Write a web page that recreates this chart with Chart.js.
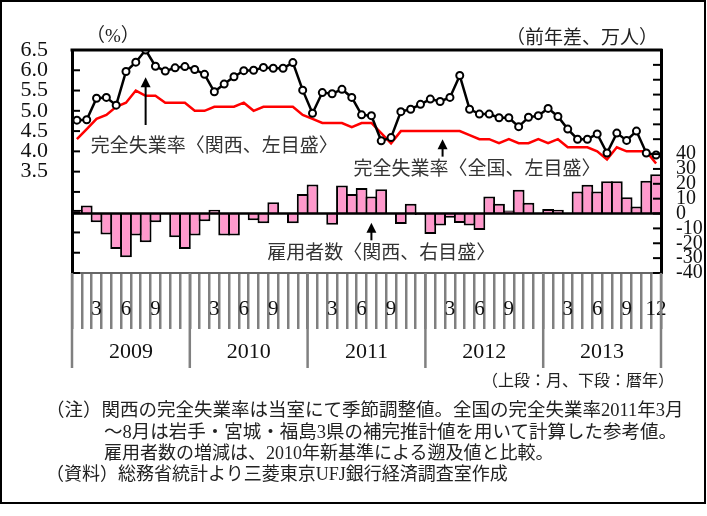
<!DOCTYPE html>
<html lang="ja">
<head>
<meta charset="utf-8">
<title>関西の完全失業率と雇用者数</title>
<script src="https://cdn.jsdelivr.net/npm/chart.js@4.4.1/dist/chart.umd.min.js"></script>
<style>
  html, body { margin: 0; padding: 0; background: #fff; }
  #wrap { position: relative; width: 707px; height: 516px; font-family: "Liberation Serif", "Noto Sans CJK JP", serif; color: #222; }
  #frame { position: absolute; left: 0; top: 0; width: 702px; height: 500px; border: 2px solid #000; pointer-events: none; }
  canvas { position: absolute; left: 0; top: 0; }
  .t { position: absolute; white-space: nowrap; line-height: 1; }
</style>
</head>
<body>
<div id="wrap">
  <canvas id="chart" width="707" height="516"></canvas>
  <div id="frame"></div>
  <div class="t" style="left:86px; top:26px; font-size:19px;">（%）</div>
  <div class="t" style="left:506px; top:28px; font-size:19px;">（前年差、万人）</div>
  <div class="t" style="left:482px; top:373px; font-size:16px;">（上段：月、下段：暦年）</div>
  <div class="t" style="left:46px; top:401px; font-size:18.5px;">（注）関西の完全失業率は当室にて季節調整値。全国の完全失業率2011年3月</div>
  <div class="t" style="left:104px; top:423px; font-size:18.5px;">～8月は岩手・宮城・福島3県の補完推計値を用いて計算した参考値。</div>
  <div class="t" style="left:104px; top:444px; font-size:18px;">雇用者数の増減は、2010年新基準による遡及値と比較。</div>
  <div class="t" style="left:46px; top:465px; font-size:18px;">（資料）総務省統計より三菱東京UFJ銀行経済調査室作成</div>
</div>
<script>
// years and months on the x axis
const years = ["2009", "2010", "2011", "2012", "2013"];
const months = ["1", "2", "3", "4", "5", "6", "7", "8", "9", "10", "11", "12"];
const monthTicks = ["3", "6", "9"];

// unemployment rate, Kansai (seasonally adjusted, %)
const kansaiRate = [
  4.77, 4.78, 5.31, 5.33, 5.14, 5.97, 6.2, 6.5, 6.1, 5.98, 6.06, 6.09,
  6.02, 5.9, 5.47, 5.66, 5.84, 5.99, 6.0, 6.07, 6.05, 6.05, 6.19, 5.51,
  4.94, 5.45, 5.42, 5.53, 5.33, 4.9, 4.88, 4.26, 4.34, 4.98, 5.04, 5.16,
  5.29, 5.23, 5.33, 5.87, 5.04, 4.92, 4.92, 4.83, 4.83, 4.61, 4.84, 4.88,
  5.06, 4.86, 4.55, 4.3, 4.3, 4.43, 3.96, 4.45, 4.27, 4.5, 3.96, 3.91
];

// unemployment rate, Japan (%)
const nationalRate = [
  4.3, 4.55, 4.8, 4.9, 5.1, 5.2, 5.5, 5.37, 5.37, 5.2, 5.2, 5.2,
  5.0, 5.0, 5.1, 5.1, 5.1, 5.2, 5.0, 5.1, 5.1, 5.1, 5.1, 4.9,
  4.8, 4.7, 4.7, 4.7, 4.6, 4.7, 4.7, 4.45, 4.2, 4.5, 4.5, 4.5,
  4.5, 4.5, 4.5, 4.5, 4.4, 4.3, 4.3, 4.2, 4.3, 4.2, 4.2, 4.3,
  4.2, 4.3, 4.1, 4.1, 4.1, 4.0, 3.8, 4.1, 4.0, 4.0, 4.0, 3.7
];

// employees, Kansai (change from a year earlier, 10 thousand persons)
const employeeChange = [
  2.5, 5.4, -5.8, -14.1, -23.8, -29.4, -14.8, -19.3, -5.8, 0, -15.9, -23.8,
  -14.8, -5.2, 2.5, -14.8, -14.8, 0, -4.5, -6.5, 7.6, 0, -6.5, 13.2,
  19.5, 0, -7.6, 18.8, 13.2, 17.2, 11.4, 16.3, 0, -7.0, 6.5, -1,
  -13.7, -8.1, -2.9, -6.3, -8.1, -11.0, 11.4, 6.5, 2.0, 16.0, 7.2, 0,
  3.1, 2.5, 0, 14.8, 19.3, 14.8, 21.7, 21.7, 11.0, 4.7, 22.0, 26.5
];

const categories = years.flatMap(y => months.map(m => y + "/" + m));

const serif = '"Liberation Serif", "Noto Sans CJK JP", serif';
const gothic = '"Noto Sans CJK JP", sans-serif';

function arrow(ctx, x, yFrom, yTo) {
  ctx.save();
  ctx.strokeStyle = "#000";
  ctx.fillStyle = "#000";
  ctx.lineWidth = 2;
  ctx.beginPath();
  ctx.moveTo(x, yFrom);
  ctx.lineTo(x, yTo + 8);
  ctx.stroke();
  ctx.beginPath();
  ctx.moveTo(x, yTo);
  ctx.lineTo(x - 5, yTo + 10);
  ctx.lineTo(x + 5, yTo + 10);
  ctx.closePath();
  ctx.fill();
  ctx.restore();
}

const decor = {
  id: "decor",
  afterDatasetsDraw(chart) {
    const { ctx, chartArea: a, scales } = chart;
    // zero line of the bars
    const y0 = scales.y2.getPixelForValue(0);
    ctx.save();
    ctx.strokeStyle = "#000";
    ctx.lineWidth = 2.5;
    ctx.beginPath();
    ctx.moveTo(a.left, y0);
    ctx.lineTo(a.right, y0);
    ctx.stroke();
    ctx.restore();
  },
  afterDraw(chart) {
    const { ctx, chartArea: a, scales } = chart;
    const x = scales.x;
    ctx.save();
    // top frame of plot
    ctx.strokeStyle = "#000";
    ctx.lineWidth = 3;
    ctx.beginPath();
    ctx.moveTo(a.left - 1.5, a.top);
    ctx.lineTo(a.right + 1.5, a.top);
    ctx.stroke();
    // inward tick marks
    ctx.lineWidth = 2;
    scales.y.ticks.forEach(t => {
      const py = scales.y.getPixelForValue(t.value);
      ctx.beginPath();
      ctx.moveTo(a.left, py);
      ctx.lineTo(a.left + 8, py);
      ctx.stroke();
    });
    scales.y2.ticks.forEach(t => {
      const py = scales.y2.getPixelForValue(t.value);
      ctx.beginPath();
      ctx.moveTo(a.right - 8, py);
      ctx.lineTo(a.right, py);
      ctx.stroke();
    });
    // year dividers and labels
    ctx.strokeStyle = "#808080";
    ctx.lineWidth = 2.5;
    years.forEach((yr, i) => {
      const px = x.getPixelForValue(i * 12 - 0.5);
      ctx.beginPath();
      ctx.moveTo(px, a.bottom);
      ctx.lineTo(px, a.bottom + 95);
      ctx.stroke();
    });
    const last = x.getPixelForValue(categories.length - 0.5);
    ctx.beginPath();
    ctx.moveTo(last, a.bottom);
    ctx.lineTo(last, a.bottom + 95);
    ctx.stroke();
    ctx.fillStyle = "#111";
    ctx.font = "22px " + serif;
    ctx.textAlign = "center";
    ctx.textBaseline = "middle";
    years.forEach((yr, i) => {
      ctx.fillText(yr, x.getPixelForValue(i * 12 + 5.5), a.bottom + 79);
    });
    // annotations
    ctx.fillStyle = "#333";
    ctx.font = "19px " + gothic;
    ctx.fillText("完全失業率〈関西、左目盛〉", x.getPixelForValue(14), scales.y.getPixelForValue(4.16));
    ctx.fillText("完全失業率〈全国、左目盛〉", x.getPixelForValue(40.75), scales.y.getPixelForValue(3.59));
    ctx.fillText("雇用者数〈関西、右目盛〉", x.getPixelForValue(31), scales.y2.getPixelForValue(-25.7));
    ctx.restore();
    arrow(ctx, x.getPixelForValue(7), scales.y.getPixelForValue(4.65), scales.y.getPixelForValue(5.83));
    arrow(ctx, x.getPixelForValue(37.25), scales.y.getPixelForValue(3.87), scales.y.getPixelForValue(4.3));
    arrow(ctx, x.getPixelForValue(30), scales.y2.getPixelForValue(-18), scales.y2.getPixelForValue(-6.2));
  }
};

new Chart(document.getElementById("chart"), {
  type: "bar",
  data: {
    labels: categories,
    datasets: [
      {
        type: "line",
        label: "完全失業率〈関西、左目盛〉",
        data: kansaiRate,
        yAxisID: "y",
        borderColor: "#000",
        borderWidth: 2.5,
        pointRadius: 3.5,
        pointBorderWidth: 2,
        pointBackgroundColor: "#fff",
        pointBorderColor: "#000",
        tension: 0,
        order: 1
      },
      {
        type: "line",
        label: "完全失業率〈全国、左目盛〉",
        data: nationalRate,
        yAxisID: "y",
        borderColor: "#ff0000",
        borderWidth: 2.5,
        pointRadius: 0,
        tension: 0,
        order: 2
      },
      {
        label: "雇用者数〈関西、右目盛〉",
        data: employeeChange,
        yAxisID: "y2",
        backgroundColor: "#ff99cc",
        borderColor: "#000",
        borderWidth: 2,
        barPercentage: 1.2,
        categoryPercentage: 1,
        order: 3
      }
    ]
  },
  options: {
    responsive: false,
    animation: false,
    layout: { padding: { top: 50, left: 0, right: 0, bottom: 0 } },
    plugins: { legend: { display: false }, tooltip: { enabled: false } },
    scales: {
      x: {
        offset: true,
        grid: { offset: true, drawOnChartArea: false, tickLength: 56, color: "#808080", lineWidth: 2.5 },
        border: { color: "#666", width: 2 },
        ticks: {
          autoSkip: false,
          maxRotation: 0,
          minRotation: 0,
          padding: -32,
          color: "#111",
          font: { family: serif, size: 21 },
          callback: function (v, i) {
            const m = months[i % 12];
            if (i === categories.length - 1) return m;
            return monthTicks.includes(m) ? m : "";
          }
        },
        afterFit: s => { s.height = 243; }
      },
      y: {
        position: "left",
        min: 1,
        max: 6.5,
        grid: { drawOnChartArea: false, drawTicks: false },
        border: { color: "#000", width: 3 },
        ticks: {
          stepSize: 0.5,
          autoSkip: false,
          padding: 24,
          color: "#111",
          font: { family: serif, size: 22 },
          callback: v => (v >= 3.49 ? Number(v).toFixed(1) : "")
        },
        afterFit: s => { s.width = 72; }
      },
      y2: {
        position: "right",
        min: -40,
        max: 110,
        grid: { drawOnChartArea: false, drawTicks: false },
        border: { color: "#000", width: 3 },
        ticks: {
          stepSize: 10,
          autoSkip: false,
          padding: 15,
          color: "#111",
          font: { family: serif, size: 20 },
          callback: v => (v <= 40 ? String(v) : "")
        },
        afterFit: s => { s.width = 46; }
      }
    }
  },
  plugins: [decor]
});
</script>
</body>
</html>
